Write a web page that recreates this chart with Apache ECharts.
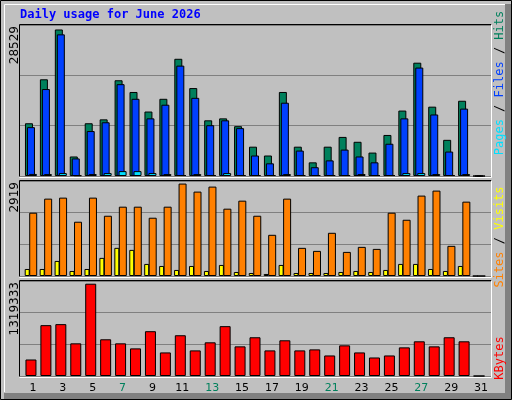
<!DOCTYPE html>
<html><head><meta charset="utf-8">
<script src="https://cdn.jsdelivr.net/npm/echarts@6/dist/echarts.min.js"></script>
<style>html,body{margin:0;padding:0;background:#c0c0c0}#c{width:512px;height:400px}</style>
</head><body><div id="c"></div>
<script>
const days = ['1','2','3','4','5','6','7','8','9','10','11','12','13','14','15','16','17','18','19','20','21','22','23','24','25','26','27','28','29','30','31'];
const weekendDays = ['6','7','13','14','20','21','27','28'];
const hits = [10270,18830,28529,3800,10270,11030,18640,16360,12550,15030,22820,17120,10840,11220,9700,5710,3990,16360,5710,2660,5710,7610,6660,4560,7990,12740,22060,13500,7040,14650,0];
const files = [9510,16930,27580,3420,8750,10460,17880,15030,11220,13880,21490,15220,9890,10840,9320,3990,2470,14270,4950,1710,3040,5140,3800,2660,6280,11220,21110,11980,4760,13120,0];
const pages = [400,380,570,150,380,570,950,950,570,380,190,380,190,570,190,190,190,380,190,190,190,190,380,190,190,570,570,380,190,380,0];
const visits = [1999,2443,2475,1714,2475,1903,2189,2189,1840,2189,2919,2665,2823,2126,2379,1903,1301,2443,889,793,1364,761,920,856,1999,1776,2539,2697,952,2348,0];
const sites = [222,222,476,159,222,572,889,825,381,317,191,317,159,349,127,95,64,349,95,95,95,127,159,127,191,381,381,222,159,317,0];
const kbytes = [235900,727000,741500,467000,1319333,524800,467000,394800,640400,337000,582600,365900,481500,712600,423700,553700,365900,510400,365900,380400,293700,438200,337000,264800,293700,409300,495900,423700,553700,495900,0];
const maxLabels = ['28529','2919','1319333'];

const panels = [{top:25,h:151,max:29400},{top:181,h:95,max:3000},{top:281,h:95,max:1358001}];
const grids=[], xAxes=[], yAxes=[];
panels.forEach((p,i)=>{
  grids.push({left:20,right:21,top:p.top,height:p.h,show:false});
  grids.push({left:23.5,right:25.5,top:p.top,height:p.h,show:false});
  xAxes.push({type:'value',gridIndex:2*i,show:false,min:0,max:1});
  xAxes.push({type:'category',gridIndex:2*i+1,data:days,boundaryGap:true,
    axisLine:{show:false},axisTick:{show:false},
    axisLabel:{show:i===2,margin:7,padding:[0,0,0,4],fontFamily:'DejaVu Sans',fontSize:11,
      color:(v)=>weekendDays.includes(v)?'#00805c':'#000'}});
  yAxes.push({type:'value',gridIndex:2*i,min:0,max:p.max,interval:p.max/3,
    axisLabel:{show:false},axisLine:{show:false},axisTick:{show:false},
    splitLine:{show:true,lineStyle:{color:'#808080',width:1}}});
  yAxes.push({type:'value',gridIndex:2*i+1,min:0,max:p.max,show:false,splitLine:{show:false}});
});
const bs = {borderColor:'#000',borderWidth:1};
const series = [
  {type:'bar',xAxisIndex:1,yAxisIndex:1,data:hits,barWidth:8,barGap:'-75%',itemStyle:{color:'#00805c',...bs},animation:false},
  {type:'bar',xAxisIndex:1,yAxisIndex:1,data:files,barWidth:8,barGap:'-75%',itemStyle:{color:'#0040ff',...bs},animation:false},
  {type:'bar',xAxisIndex:1,yAxisIndex:1,data:pages,barWidth:8,barGap:'-75%',itemStyle:{color:'#00e0ff',...bs},animation:false},
  {type:'bar',xAxisIndex:3,yAxisIndex:3,data:sites,barWidth:5,barGap:'-10%',itemStyle:{color:'#ffff00',...bs},animation:false},
  {type:'bar',xAxisIndex:3,yAxisIndex:3,data:visits,barWidth:8,barGap:'-10%',itemStyle:{color:'#ff8000',...bs},animation:false},
  {type:'bar',xAxisIndex:5,yAxisIndex:5,data:kbytes,barWidth:11,itemStyle:{color:'#ff0000',...bs},animation:false}
];
const g = [
  {type:'rect',shape:{x:0.5,y:0.5,width:511,height:399},style:{fill:'none',stroke:'#000',lineWidth:1},z:-10},
  {type:'rect',shape:{x:505,y:4,width:6,height:395},style:{fill:'#808080'},z:-10},
  {type:'rect',shape:{x:4,y:393,width:507,height:6},style:{fill:'#808080'},z:-10},
  {type:'polyline',shape:{points:[[4.5,392],[4.5,4.5],[505,4.5]]},style:{stroke:'#fff',lineWidth:1,fill:'none'},z:-10},
  {type:'text',x:20,y:9,style:{text:'Daily usage for June 2026',fill:'#0000ff',font:'bold 12px "DejaVu Sans Mono"'}}
];
panels.forEach((p,i)=>{
  g.push({type:'polyline',shape:{points:[[19.5,p.top+p.h+0.5],[19.5,p.top-0.5],[491.5,p.top-0.5]]},style:{stroke:'#000',lineWidth:1,fill:'none'}});
  g.push({type:'polyline',shape:{points:[[491.5,p.top-0.5],[491.5,p.top+p.h+1.5],[19.5,p.top+p.h+1.5]]},style:{stroke:'#fff',lineWidth:1,fill:'none'}});
  g.push({type:'text',x:15,y:p.top+1,rotation:Math.PI/2,style:{text:maxLabels[i],fill:'#000',font:'12px "DejaVu Sans"',align:'right',verticalAlign:'middle'}});
});
g.push({type:'text',x:500,y:83,rotation:Math.PI/2,style:{text:'{p|Pages}{s| / }{f|Files}{s| / }{h|Hits}',align:'center',verticalAlign:'middle',font:'12px "DejaVu Sans Mono"',
  rich:{p:{fill:'#00e0ff',font:'12px "DejaVu Sans Mono"'},f:{fill:'#0040ff',font:'12px "DejaVu Sans Mono"'},h:{fill:'#00805c',font:'12px "DejaVu Sans Mono"'},s:{fill:'#000',font:'12px "DejaVu Sans Mono"'}}}});
g.push({type:'text',x:500,y:237,rotation:Math.PI/2,style:{text:'{a|Sites}{s| / }{b|Visits}',align:'center',verticalAlign:'middle',font:'12px "DejaVu Sans Mono"',
  rich:{a:{fill:'#ff8000',font:'12px "DejaVu Sans Mono"'},b:{fill:'#ffff00',font:'12px "DejaVu Sans Mono"'},s:{fill:'#000',font:'12px "DejaVu Sans Mono"'}}}});
g.push({type:'text',x:500,y:358,rotation:Math.PI/2,style:{text:'KBytes',fill:'#ff0000',align:'center',verticalAlign:'middle',font:'12px "DejaVu Sans Mono"'}});

const chart = echarts.init(document.getElementById('c'),null,{renderer:'canvas'});
chart.setOption({backgroundColor:'#c0c0c0',animation:false,grid:grids,xAxis:xAxes,yAxis:yAxes,series,graphic:g});
</script></body></html>
